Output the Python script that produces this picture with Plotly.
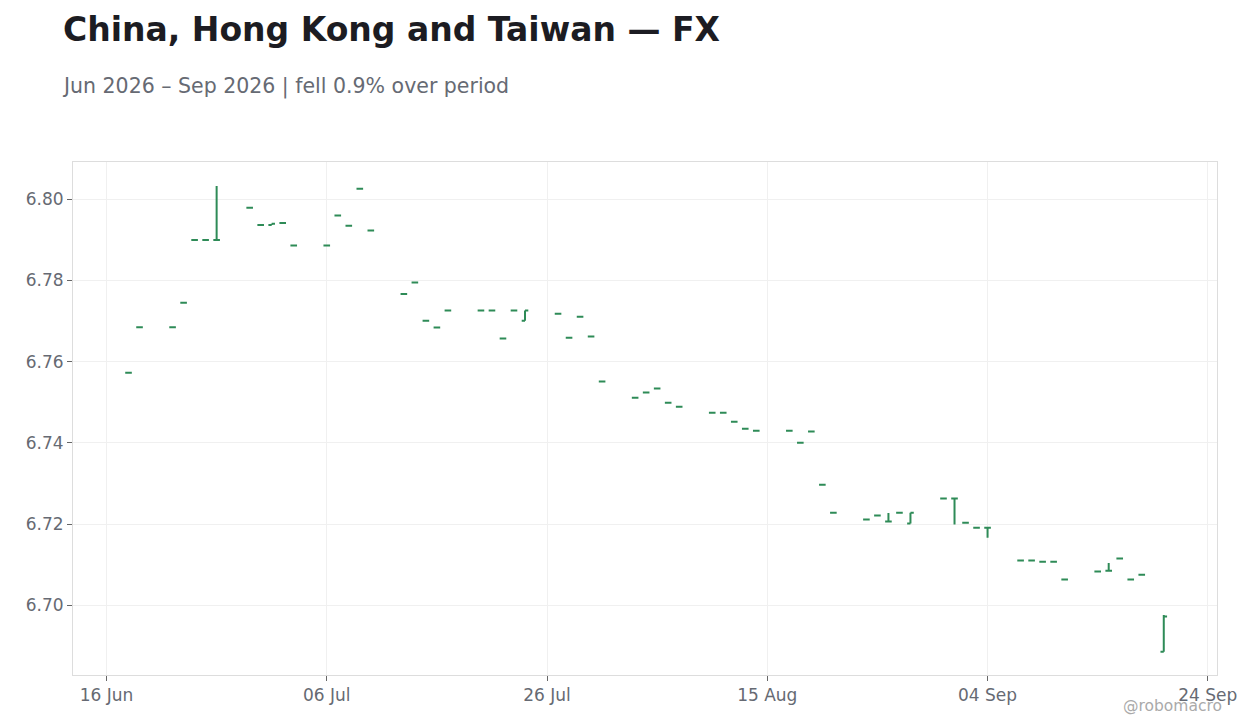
import plotly.graph_objects as go

# trading days and daily quotes
dates = [
    '2026-06-18', '2026-06-19', '2026-06-22', '2026-06-23', '2026-06-24', '2026-06-25', '2026-06-26',
    '2026-06-29', '2026-06-30', '2026-07-01', '2026-07-02', '2026-07-03',
    '2026-07-06', '2026-07-07', '2026-07-08', '2026-07-09', '2026-07-10',
    '2026-07-13', '2026-07-14', '2026-07-15', '2026-07-16', '2026-07-17',
    '2026-07-20', '2026-07-21', '2026-07-22', '2026-07-23', '2026-07-24',
    '2026-07-27', '2026-07-28', '2026-07-29', '2026-07-30', '2026-07-31',
    '2026-08-03', '2026-08-04', '2026-08-05', '2026-08-06', '2026-08-07',
    '2026-08-10', '2026-08-11', '2026-08-12', '2026-08-13', '2026-08-14',
    '2026-08-17', '2026-08-18', '2026-08-19', '2026-08-20', '2026-08-21',
    '2026-08-24', '2026-08-25', '2026-08-26', '2026-08-27', '2026-08-28',
    '2026-08-31', '2026-09-01', '2026-09-02', '2026-09-03', '2026-09-04',
    '2026-09-07', '2026-09-08', '2026-09-09', '2026-09-10', '2026-09-11',
    '2026-09-14', '2026-09-15', '2026-09-16', '2026-09-17', '2026-09-18',
    '2026-09-20',
]

opens = [
    6.7573, 6.7685, 6.7685, 6.7745, 6.7900, 6.7900, 6.7900,
    6.7979, 6.7937, 6.7937, 6.7942, 6.7886,
    6.7886, 6.7960, 6.7935, 6.8026, 6.7923,
    6.7767, 6.7795, 6.7701, 6.7684, 6.7726,
    6.7726, 6.7726, 6.7657, 6.7726, 6.7701,
    6.7718, 6.7659, 6.7711, 6.7662, 6.7551,
    6.7511, 6.7524, 6.7534, 6.7499, 6.7489,
    6.7474, 6.7474, 6.7452, 6.7435, 6.7430,
    6.7430, 6.7400, 6.7428, 6.7297, 6.7228,
    6.7211, 6.7221, 6.7206, 6.7228, 6.7201,
    6.7263, 6.7263, 6.7203, 6.7191, 6.7191,
    6.7110, 6.7110, 6.7107, 6.7107, 6.7063,
    6.7083, 6.7085, 6.7115, 6.7063, 6.7075,
    6.6885,
]

highs = [
    6.7573, 6.7685, 6.7685, 6.7745, 6.7900, 6.7900, 6.8033,
    6.7979, 6.7937, 6.7940, 6.7942, 6.7886,
    6.7886, 6.7960, 6.7935, 6.8026, 6.7923,
    6.7767, 6.7795, 6.7701, 6.7684, 6.7726,
    6.7726, 6.7726, 6.7657, 6.7726, 6.7726,
    6.7718, 6.7659, 6.7711, 6.7662, 6.7551,
    6.7511, 6.7524, 6.7534, 6.7499, 6.7489,
    6.7474, 6.7474, 6.7452, 6.7435, 6.7430,
    6.7430, 6.7400, 6.7428, 6.7297, 6.7228,
    6.7211, 6.7221, 6.7227, 6.7228, 6.7228,
    6.7263, 6.7263, 6.7203, 6.7191, 6.7191,
    6.7110, 6.7110, 6.7107, 6.7107, 6.7063,
    6.7083, 6.7104, 6.7115, 6.7063, 6.7075,
    6.6976,
]

lows = [
    6.7573, 6.7685, 6.7685, 6.7745, 6.7900, 6.7900, 6.7900,
    6.7979, 6.7937, 6.7937, 6.7942, 6.7886,
    6.7886, 6.7960, 6.7935, 6.8026, 6.7923,
    6.7767, 6.7795, 6.7701, 6.7684, 6.7726,
    6.7726, 6.7726, 6.7657, 6.7726, 6.7701,
    6.7718, 6.7659, 6.7711, 6.7662, 6.7551,
    6.7511, 6.7524, 6.7534, 6.7499, 6.7489,
    6.7474, 6.7474, 6.7452, 6.7435, 6.7430,
    6.7430, 6.7400, 6.7428, 6.7297, 6.7228,
    6.7211, 6.7221, 6.7206, 6.7228, 6.7201,
    6.7263, 6.7199, 6.7203, 6.7191, 6.7166,
    6.7110, 6.7110, 6.7107, 6.7107, 6.7063,
    6.7083, 6.7085, 6.7115, 6.7063, 6.7075,
    6.6885,
]

closes = [
    6.7573, 6.7685, 6.7685, 6.7745, 6.7900, 6.7900, 6.7900,
    6.7979, 6.7937, 6.7940, 6.7942, 6.7886,
    6.7886, 6.7960, 6.7935, 6.8026, 6.7923,
    6.7767, 6.7795, 6.7701, 6.7684, 6.7726,
    6.7726, 6.7726, 6.7657, 6.7726, 6.7726,
    6.7718, 6.7659, 6.7711, 6.7662, 6.7551,
    6.7511, 6.7524, 6.7534, 6.7499, 6.7489,
    6.7474, 6.7474, 6.7452, 6.7435, 6.7430,
    6.7430, 6.7400, 6.7428, 6.7297, 6.7228,
    6.7211, 6.7221, 6.7206, 6.7228, 6.7228,
    6.7263, 6.7263, 6.7203, 6.7191, 6.7191,
    6.7110, 6.7110, 6.7107, 6.7107, 6.7063,
    6.7083, 6.7085, 6.7115, 6.7063, 6.7075,
    6.6972,
]

x_ticks = ['2026-06-16', '2026-07-06', '2026-07-26', '2026-08-15', '2026-09-04', '2026-09-24']
x_labels = ['16 Jun', '06 Jul', '26 Jul', '15 Aug', '04 Sep', '24 Sep']
y_ticks = [6.70, 6.72, 6.74, 6.76, 6.78, 6.80]

green = '#2e8b57'

fig = go.Figure(go.Ohlc(
    x=dates, open=opens, high=highs, low=lows, close=closes,
    increasing={'line': {'color': green, 'width': 2}},
    decreasing={'line': {'color': green, 'width': 2}},
    showlegend=False,
))

# page body has an 8px margin, so the figure is sized to fit inside it
fig.update_layout(
    width=1244, height=712,
    margin={'l': 65, 'r': 35, 't': 154, 'b': 45},
    paper_bgcolor='white', plot_bgcolor='white',
    font={'family': 'DejaVu Sans', 'size': 17, 'color': '#666a73'},
    title={
        'text': '<b>China, Hong Kong and Taiwan — FX</b>',
        'x': 0.0442, 'xanchor': 'left', 'xref': 'container',
        'y': 0.97, 'yanchor': 'middle', 'yref': 'container',
        'font': {'size': 33, 'color': '#1c1c22'},
    },
    xaxis={
        'type': 'date',
        'range': ['2026-06-12 23:00', '2026-09-24 20:00'],
        'rangeslider': {'visible': False},
        'tickvals': x_ticks, 'ticktext': x_labels,
        'showgrid': True, 'gridcolor': '#f0f0f0',
        'showline': True, 'linecolor': '#dddddd', 'mirror': True,
        'ticks': 'outside', 'ticklen': 5, 'tickcolor': '#666666',
        'zeroline': False,
    },
    yaxis={
        'range': [6.6828, 6.8092],
        'tickvals': y_ticks, 'tickformat': '.2f',
        'showgrid': True, 'gridcolor': '#f0f0f0',
        'showline': True, 'linecolor': '#dddddd', 'mirror': True,
        'ticks': 'outside', 'ticklen': 5, 'tickcolor': '#666666',
        'zeroline': False,
    },
    annotations=[
        {
            'text': 'Jun 2026 – Sep 2026 | fell 0.9% over period',
            'xref': 'paper', 'yref': 'paper', 'x': -0.0114, 'y': 1.148,
            'xanchor': 'left', 'yanchor': 'middle', 'showarrow': False,
            'font': {'size': 20.5, 'color': '#666a73'},
        },
        {
            'text': '@robomacro',
            'xref': 'paper', 'yref': 'paper', 'x': 1.0061, 'y': -0.06,
            'xanchor': 'right', 'yanchor': 'middle', 'showarrow': False,
            'font': {'size': 15.5, 'color': '#aaaaaa'},
        },
    ],
)

fig.write_html('out.html')
